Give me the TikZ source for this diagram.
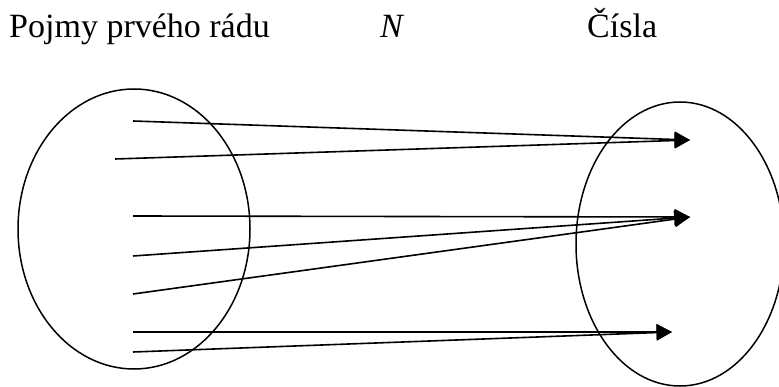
\documentclass[tikz,border=0pt]{standalone}
\usepackage{fontspec}
\setmainfont{Liberation Serif}
\usetikzlibrary{arrows.meta,shapes.geometric}
\begin{document}
\begin{tikzpicture}[x=1pt,y=-1pt,
  set/.style={draw, ellipse, inner sep=0pt, line width=1.5pt},
  lbl/.style={anchor=base west, inner sep=0pt, font=\fontsize{34}{40}\selectfont},
  arr/.style={-{Triangle[length=15.5pt,width=16pt]}, line width=1.6pt}]
\useasboundingbox (0,0) rectangle (779,387);
\fill[white] (0,0) rectangle (779,387);
% titles
\node[lbl] (t1) at (9,38) {Pojmy prvého rádu};
\node[lbl] (t2) at (380,38) {\itshape N};
\node[lbl] (t3) at (587,38) {Čísla};
% sets
\node[set, minimum width=232pt, minimum height=280pt] (L) at (134,229) {};
\node[set, minimum width=208pt, minimum height=284pt] (R) at (680,244) {};
% start points
\coordinate (s1) at (133,121);
\coordinate (s2) at (115,159);
\coordinate (s3) at (133,216);
\coordinate (s4) at (133,256);
\coordinate (s5) at (133,294);
\coordinate (s6) at (133,332);
\coordinate (s7) at (133,352);
% targets
\coordinate (e1) at (690,140);
\coordinate (e2) at (690,217);
\coordinate (e3) at (672,332);
% arrows
\draw[arr] (s1) -- (e1);
\draw[arr] (s2) -- (e1);
\draw[arr] (s3) -- (e2);
\draw[arr] (s4) -- (e2);
\draw[arr] (s5) -- (e2);
\draw[arr] (s6) -- (e3);
\draw[arr] (s7) -- (e3);
\end{tikzpicture}
\end{document}
